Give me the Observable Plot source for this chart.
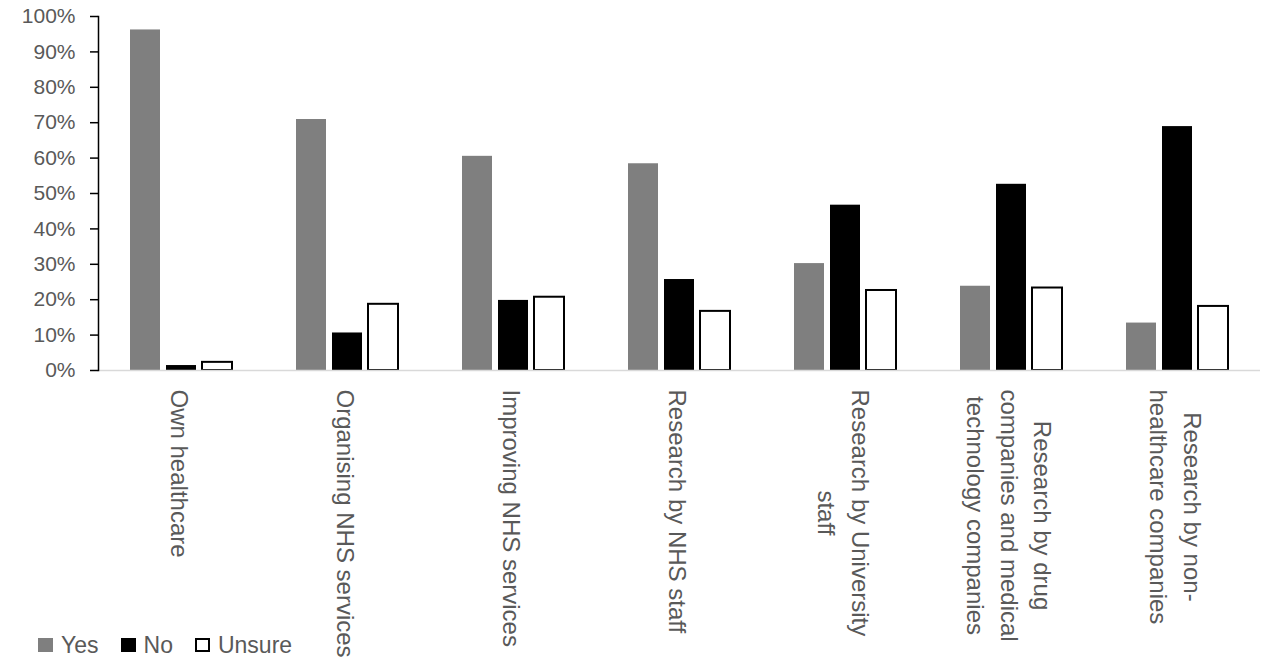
<!DOCTYPE html>
<html>
<head>
<meta charset="utf-8">
<script src="https://cdn.jsdelivr.net/npm/d3@7"></script>
<script src="https://cdn.jsdelivr.net/npm/@observablehq/plot@0.6"></script>
<style>
  html, body { margin: 0; padding: 0; background: #fff; }
  #wrap { position: relative; width: 1280px; height: 669px; font-family: "Liberation Sans", Arial, sans-serif; }
  #legend { position: absolute; left: 38px; top: 631px; display: flex; align-items: center; font-size: 23px; color: #595959; line-height: 28px; }
  #legend .item { display: flex; align-items: center; margin-right: 22px; }
  #legend .sw { width: 15px; height: 14px; display: inline-block; margin-right: 8px; box-sizing: border-box; }
</style>
</head>
<body>
<div id="wrap"></div>
<script>
// ---- data ----
const categories = [
  "Own healthcare",
  "Organising NHS services",
  "Improving NHS services",
  "Research by NHS staff",
  "Research by University staff",
  "Research by drug companies and medical technology companies",
  "Research by non-healthcare companies"
];
const tickLabels = [
  "Own healthcare",
  "Organising NHS services",
  "Improving NHS services",
  "Research by NHS staff",
  "Research by University\nstaff",
  "Research by drug\ncompanies and medical\ntechnology companies",
  "Research by non-\nhealthcare companies"
];
const responses = ["Yes", "No", "Unsure"];
const yesValues    = [96.2, 70.9, 60.5, 58.4, 30.2, 23.8, 13.4];
const noValues     = [1.4, 10.6, 19.8, 25.7, 46.7, 52.6, 68.9];
const unsureValues = [2.3, 18.7, 20.7, 16.7, 22.6, 23.3, 18.1];
const yTicks = [0, 0.1, 0.2, 0.3, 0.4, 0.5, 0.6, 0.7, 0.8, 0.9, 1.0];
const colors = {Yes: "#7f7f7f", No: "#000000", Unsure: "#ffffff"};

// ---- table ----
const series = {Yes: yesValues, No: noValues, Unsure: unsureValues};
const rows = [];
categories.forEach((c, i) => {
  responses.forEach(r => rows.push({category: c, response: r, value: series[r][i] / 100}));
});
const labelRows = categories.map((c, i) => ({category: c, label: tickLabels[i]}));

const chart = Plot.plot({
  width: 1280,
  height: 669,
  marginTop: 16,
  marginBottom: 299,
  marginLeft: 96,
  marginRight: 18,
  style: {fontFamily: "'Liberation Sans', Arial, sans-serif", background: "#fff"},
  fx: {domain: categories, padding: 0, axis: null},
  x: {domain: responses, paddingInner: 0.18, paddingOuter: 0.88, axis: null},
  y: {domain: [0, 1]},
  color: {domain: responses, range: responses.map(r => colors[r])},
  marks: [
    Plot.barY(rows.filter(d => d.response !== "Unsure"), {fx: "category", x: "response", y: "value", fill: "response"}),
    Plot.barY(rows.filter(d => d.response === "Unsure"), {fx: "category", x: "response", y: "value", fill: "#ffffff", stroke: "#000000", strokeWidth: 2}),
    Plot.ruleY([0], {stroke: "#d9d9d9", strokeWidth: 1.5}),
    Plot.frame({anchor: "left", facetAnchor: "left", stroke: "#000000", strokeWidth: 1.5}),
    Plot.axisY({ticks: yTicks, tickFormat: d3.format(".0%"), tickSize: 8, tickPadding: 15, stroke: "#000000", strokeWidth: 1.5, fill: "#595959", fontSize: 21, label: null}),
    Plot.text(labelRows, {fx: "category", text: "label", frameAnchor: "bottom", rotate: 90, textAnchor: "start", lineAnchor: "middle", lineHeight: 1.4, dy: 19, fontSize: 24, fill: "#595959"})
  ]
});

const wrap = document.getElementById("wrap");
wrap.appendChild(chart);

// center the lines of each rotated multi-line category label on its longest line
d3.select(chart).selectAll("g[aria-label='text'] text").each(function() {
  const tspans = this.querySelectorAll("tspan");
  if (tspans.length === 0) return; // single-line labels already start at the top
  const w = this.getBBox().width;
  this.setAttribute("text-anchor", "middle");
  tspans.forEach(t => t.setAttribute("x", w / 2));
});

// legend
const legend = document.createElement("div");
legend.id = "legend";
responses.forEach(r => {
  const item = document.createElement("span");
  item.className = "item";
  const sw = document.createElement("span");
  sw.className = "sw";
  sw.style.background = colors[r];
  if (r === "Unsure") sw.style.border = "2px solid #000";
  item.appendChild(sw);
  item.appendChild(document.createTextNode(r));
  legend.appendChild(item);
});
wrap.appendChild(legend);
</script>
</body>
</html>
